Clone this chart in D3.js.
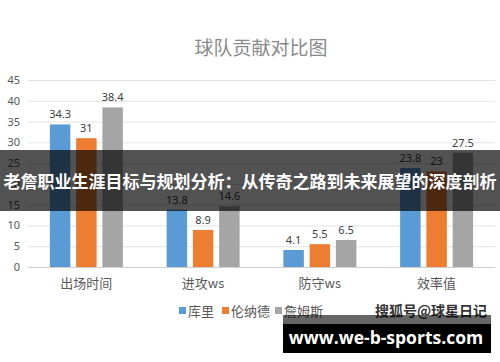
<!DOCTYPE html>
<html>
<head>
<meta charset="utf-8">
<script src="https://cdn.jsdelivr.net/npm/d3@7"></script>
<style>
  body { margin: 0; background: #fff; }
  svg { display: block; font-family: "Noto Sans CJK SC", "Noto Sans", sans-serif; }
</style>
</head>
<body>
<div id="app"></div>
<script>
// ----- Data -----
const categories = ["出场时间", "进攻ws", "防守ws", "效率值"];
const players = ["库里", "伦纳德", "詹姆斯"];
const curry = [34.3, 13.8, 4.1, 23.8];
const leonard = [31, 8.9, 5.5, 23];
const james = [38.4, 14.6, 6.5, 27.5];
const yTicks = [0, 5, 10, 15, 20, 25, 30, 35, 40, 45];
const colors = ["#5b9bd5", "#ed7d31", "#a5a5a5"];

const title = "球队贡献对比图";
const banner = "老詹职业生涯目标与规划分析：从传奇之路到未来展望的深度剖析";
const mark = "搜狐号@球星日记";
const site = "www.we-b-sports.com";

const W = 500, H = 362;
const series = [curry, leonard, james];

function main() {
    const svg = d3.select("#app").append("svg")
        .attr("width", W)
        .attr("height", H);

    // scales
    const x0 = d3.scaleBand()
        .domain(categories)
        .range([28, 495]);
    const groupW = 73;
    const x1 = d3.scaleBand()
        .domain(players)
        .range([(x0.bandwidth() - groupW) / 2, (x0.bandwidth() + groupW) / 2])
        .paddingInner(0.22);
    const y = d3.scaleLinear()
        .domain([0, 45])
        .range([267, 80]);

    // title
    svg.append("text")
        .attr("x", 261)
        .attr("y", 55)
        .attr("text-anchor", "middle")
        .attr("font-size", 19)
        .attr("fill", "#8a8a8a")
        .text(title);

    // grid
    const yAxis = d3.axisLeft(y)
        .tickValues(yTicks)
        .tickSize(-(495 - 28))
        .tickPadding(8);
    const gy = svg.append("g")
        .attr("transform", "translate(28,0)")
        .call(yAxis);
    gy.select(".domain").remove();
    gy.selectAll(".tick line")
        .attr("stroke", d => d === 0 ? "#cfcfcf" : "#e3e3e3");
    gy.selectAll(".tick text")
        .attr("font-size", 11)
        .attr("font-family", "Noto Sans, sans-serif")
        .attr("fill", "#595959");

    // bars
    const groups = svg.selectAll(".grp")
        .data(categories)
        .enter()
        .append("g")
            .attr("class", "grp")
            .attr("transform", d => `translate(${x0(d)},0)`);

    groups.each(function(cat, ci) {
        const g = d3.select(this);
        const rows = players.map((p, pi) => ({ p, pi, v: series[pi][ci] }));
        g.selectAll("rect")
            .data(rows)
            .enter()
            .append("rect")
                .attr("x", d => x1(d.p))
                .attr("y", d => y(d.v))
                .attr("width", x1.bandwidth())
                .attr("height", d => y(0) - y(d.v))
                .attr("fill", d => colors[d.pi]);
        g.selectAll(".lbl")
            .data(rows)
            .enter()
            .append("text")
                .attr("class", "lbl")
                .attr("x", d => x1(d.p) + x1.bandwidth() / 2)
                .attr("y", d => y(d.v) - 6)
                .attr("text-anchor", "middle")
                .attr("font-size", 11)
                .attr("font-family", "Noto Sans, sans-serif")
                .attr("fill", "#404040")
                .text(d => d.v);
    });

    // category labels
    svg.selectAll(".cat")
        .data(categories)
        .enter()
        .append("text")
            .attr("class", "cat")
            .attr("x", d => x0(d) + x0.bandwidth() / 2)
            .attr("y", 288)
            .attr("text-anchor", "middle")
            .attr("font-size", 13)
            .attr("fill", "#595959")
            .text(d => d);

    // legend
    const legendX = [179, 222, 275];
    const lg = svg.selectAll(".leg")
        .data(players)
        .enter()
        .append("g")
            .attr("class", "leg")
            .attr("transform", (d, i) => `translate(${legendX[i]},311)`);
    lg.append("rect")
        .attr("x", 0)
        .attr("y", -4)
        .attr("width", 7)
        .attr("height", 7)
        .attr("fill", (d, i) => colors[i]);
    lg.append("text")
        .attr("x", 9)
        .attr("y", 5)
        .attr("font-size", 13)
        .attr("fill", "#595959")
        .text(d => d);

    // overlay banner
    svg.append("rect")
        .attr("x", 0)
        .attr("y", 150)
        .attr("width", W)
        .attr("height", 61)
        .attr("fill", "rgba(0,0,0,0.68)");
    svg.append("text")
        .attr("x", 250)
        .attr("y", 188)
        .attr("text-anchor", "middle")
        .attr("font-size", 17)
        .attr("font-weight", "bold")
        .attr("fill", "#fff")
        .text(banner);

    // watermark
    svg.append("text")
        .attr("x", 487)
        .attr("y", 316)
        .attr("text-anchor", "end")
        .attr("font-size", 14)
        .attr("font-weight", "bold")
        .attr("fill", "#333")
        .text(mark);

    svg.append("rect")
        .attr("x", 283)
        .attr("y", 315)
        .attr("width", 208)
        .attr("height", 10)
        .attr("fill", "rgba(0,0,0,0.6)");
    svg.append("rect")
        .attr("x", 283)
        .attr("y", 324)
        .attr("width", 208)
        .attr("height", 29)
        .attr("fill", "#000");
    svg.append("text")
        .attr("x", 386)
        .attr("y", 344)
        .attr("text-anchor", "middle")
        .attr("font-size", 17.5)
        .attr("font-weight", "bold")
        .attr("font-family", "Open Sans, DejaVu Sans, sans-serif")
        .attr("fill", "#fff")
        .text(site);
}

main();
</script>
</body>
</html>
